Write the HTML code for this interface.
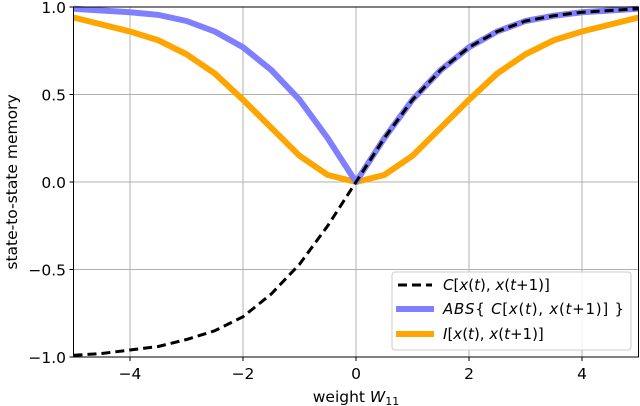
<!DOCTYPE html>
<html><head><meta charset="utf-8"><style>
body{margin:0;background:#fff}
svg{display:block;font-family:"DejaVu Sans","Liberation Sans",sans-serif}
</style></head><body>
<svg id="chart" width="640" height="406" viewBox="0 0 640 406" xmlns="http://www.w3.org/2000/svg">
<g id="grid"></g>
<g id="series"></g>
<rect x="73.5" y="7" width="565" height="350" fill="none" stroke="#000" stroke-width="1"/>
<g id="ticks" font-size="15.5"></g>
<text transform="translate(17,182) rotate(-90)" text-anchor="middle" font-size="15.5">state-to-state memory</text>
<text x="356" y="402" text-anchor="middle" font-size="15.5">weight <tspan font-style="italic">W</tspan><tspan font-size="11" dy="3">11</tspan></text>
<g>
<rect x="392" y="272" width="239" height="78" rx="3" fill="#fff" fill-opacity="0.85" stroke="#ccc"/>
<line x1="398" y1="285" x2="432" y2="285" stroke="#000" stroke-width="3" stroke-dasharray="9,5"/>
<text x="443" y="290" font-size="15"><tspan font-style="italic">C</tspan>[<tspan font-style="italic">x</tspan>(<tspan font-style="italic">t</tspan>), <tspan font-style="italic">x</tspan>(<tspan font-style="italic">t</tspan>+1)]</text>
<line x1="396" y1="309" x2="434" y2="309" stroke="#7f7fff" stroke-width="6"/>
<text x="443" y="314" font-size="15" textLength="181"><tspan font-style="italic">ABS</tspan>{ <tspan font-style="italic">C</tspan>[<tspan font-style="italic">x</tspan>(<tspan font-style="italic">t</tspan>), <tspan font-style="italic">x</tspan>(<tspan font-style="italic">t</tspan>+1)] }</text>
<line x1="396" y1="334" x2="434" y2="334" stroke="#ffa500" stroke-width="6"/>
<text x="443" y="339" font-size="15"><tspan font-style="italic">I</tspan>[<tspan font-style="italic">x</tspan>(<tspan font-style="italic">t</tspan>), <tspan font-style="italic">x</tspan>(<tspan font-style="italic">t</tspan>+1)]</text>
</g>
</svg>
<script>
const xs=[-5,-4.5,-4,-3.5,-3,-2.5,-2,-1.5,-1,-0.5,0,0.5,1,1.5,2,2.5,3,3.5,4,4.5,5];
const cVals=[-0.99,-0.98,-0.96,-0.94,-0.90,-0.85,-0.77,-0.64,-0.47,-0.25,0,0.25,0.47,0.64,0.77,0.86,0.92,0.95,0.97,0.98,0.99];
const absVals=[0.99,0.98,0.97,0.955,0.92,0.86,0.77,0.64,0.47,0.25,0,0.25,0.47,0.64,0.77,0.86,0.92,0.95,0.97,0.98,0.99];
const iVals=[0.94,0.90,0.86,0.81,0.73,0.62,0.47,0.31,0.15,0.04,0,0.04,0.15,0.31,0.47,0.62,0.73,0.81,0.86,0.90,0.94];
const xTicks=[-4,-2,0,2,4];
const xTickLabels=["−4","−2","0","2","4"];
const yTicks=[-1,-0.5,0,0.5,1];
const yTickLabels=["−1.0","−0.5","0.0","0.5","1.0"];
const NS="http://www.w3.org/2000/svg";
const X=v=>356+v*56.5, Y=v=>182-v*175;
function mk(tag,attrs,parent){const e=document.createElementNS(NS,tag);for(const k in attrs)e.setAttribute(k,attrs[k]);parent.appendChild(e);return e;}
const grid=document.getElementById('grid'),ticks=document.getElementById('ticks'),series=document.getElementById('series');
xTicks.forEach((t,i)=>{
  const g=mk('line',{x1:X(t),x2:X(t),y1:7,y2:357,stroke:'#b0b0b0','stroke-width':1},grid);
  
  
  const tk=mk('line',{x1:X(t),x2:X(t),y1:357,y2:361,stroke:'#000'},ticks);
  
  
  const tl=mk('text',{x:X(t),y:379,'text-anchor':'middle'},ticks);tl.textContent=xTickLabels[i];
  
  
});
yTicks.forEach((t,i)=>{
  const g=mk('line',{x1:73.5,x2:638.5,y1:Y(t),y2:Y(t),stroke:'#b0b0b0','stroke-width':1},grid);
  
  
  const tk=mk('line',{x1:69.5,x2:73.5,y1:Y(t),y2:Y(t),stroke:'#000'},ticks);
  
  
  const tl=mk('text',{x:66,y:Y(t)+6,'text-anchor':'end'},ticks);tl.textContent=yTickLabels[i];
  
  
});
function pts(vals){return xs.map((x,i)=>X(x)+','+Y(vals[i])).join(' ');}
const li=mk('polyline',{points:pts(iVals),fill:'none',stroke:'#ffa500','stroke-width':6,'stroke-linejoin':'round'},series);


const la=mk('polyline',{points:pts(absVals),fill:'none',stroke:'#7f7fff','stroke-width':6,'stroke-linejoin':'round'},series);


const lc=mk('polyline',{points:pts(cVals),fill:'none',stroke:'#000','stroke-width':3,'stroke-dasharray':'9,5'},series);


</script>
</body></html>
